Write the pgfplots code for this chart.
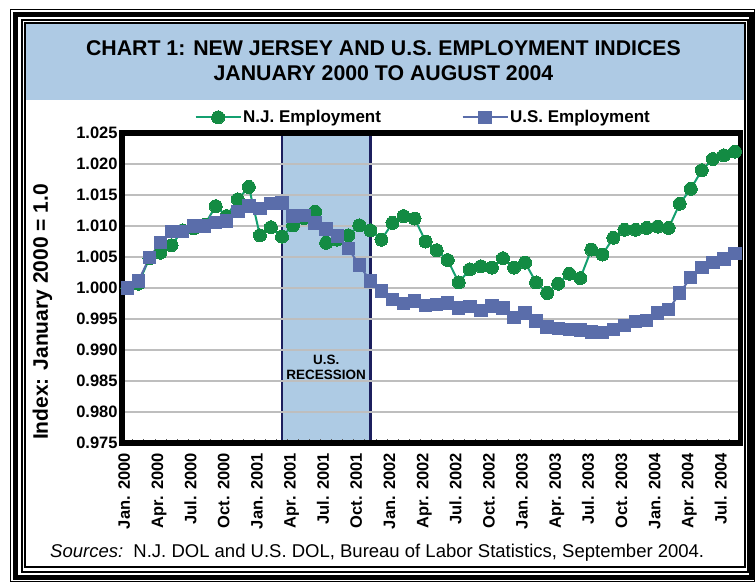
\documentclass[border=0pt]{standalone}
\usepackage{fontspec}
\setmainfont{Liberation Sans}
\usepackage{pgfplots}
\pgfplotsset{compat=1.18}
\definecolor{titleblue}{RGB}{174,202,228}
\definecolor{bandblue}{RGB}{174,203,228}
\definecolor{navy}{RGB}{28,31,94}
\definecolor{njgreen}{RGB}{19,139,67}
\definecolor{njline}{RGB}{20,160,112}
\definecolor{usblue}{RGB}{90,109,170}
\definecolor{gridgray}{RGB}{190,190,190}
\pgfplotsset{
  layers/mylayers/.define layer set={axis background,axis grid,main,axis ticks,axis lines,axis tick labels,axis descriptions,axis foreground}{},
}
\newcommand{\tickfont}{\fontsize{16.5}{19}\selectfont\bfseries}
\newcommand{\legfont}{\fontsize{17}{20}\selectfont\bfseries}
\begin{document}
\begin{tikzpicture}
\path (0pt,0pt) rectangle (755pt,-582pt);
% title box
\fill[titleblue] (26pt,-24pt) rectangle (743.5pt,-100pt);
% frames
\draw[line width=1pt] (10.5pt,-9pt) rectangle (754.5pt,-581.5pt);
\draw[line width=5pt] (15.8pt,-14.2pt) rectangle (751.5pt,-577.5pt);
\draw[line width=2pt] (21.7pt,-19.5pt) rectangle (747.5pt,-571.5pt);
\draw[line width=2pt] (25pt,-23pt) rectangle (744.5pt,-567pt);
\node[font=\fontsize{21.3}{25}\selectfont\bfseries] at (383.5pt,-48pt) {CHART 1: NEW JERSEY AND U.S. EMPLOYMENT INDICES};
\node[font=\fontsize{21.3}{25}\selectfont\bfseries] at (383.5pt,-73pt) {JANUARY 2000 TO AUGUST 2004};
\node[rotate=90, font=\fontsize{21}{25}\selectfont\bfseries] at (42.5pt,-312pt) {Index: January 2000 = 1.0};
\node[anchor=base west, inner sep=0pt, font=\fontsize{18.5}{21}\selectfont] at (50pt,-557pt) {\textit{Sources:}\ \ N.J. DOL and U.S. DOL, Bureau of Labor Statistics, September 2004.};
\begin{axis}[
  set layers=mylayers,
  scale only axis, width=618.7pt, height=310pt,
  at={(121.8pt,-443pt)}, anchor=south west,
  xmin=-0.5, xmax=55.5, ymin=0.975, ymax=1.025,
  axis line style={line width=5.5pt, black},
  ytick={0.975,0.980,0.985,0.990,0.995,1.000,1.005,1.010,1.015,1.020,1.025},
  yticklabels={0.975,0.980,0.985,0.990,0.995,1.000,1.005,1.010,1.015,1.020,1.025},
  ymajorgrids, grid style={line width=1.3pt, gridgray},
  major tick length=0pt,
  xtick={0,3,...,54},
  xticklabels={Jan. 2000,Apr. 2000,Jul. 2000,Oct. 2000,Jan. 2001,Apr. 2001,Jul. 2001,Oct. 2001,Jan. 2002,Apr. 2002,Jul. 2002,Oct. 2002,Jan. 2003,Apr. 2003,Jul. 2003,Oct. 2003,Jan. 2004,Apr. 2004,Jul. 2004},
  minor xtick={0.5,1.5,...,54.5},
  minor tick length=4pt,
  xtick pos=bottom, ytick pos=left,
  tick align=inside,
  minor tick style={line width=0.8pt, black!65},
  /pgf/number format/assume math mode=true,
  xticklabel style={rotate=90, anchor=mid east, inner sep=0pt, font=\tickfont},
  xticklabel shift=10pt,
  yticklabel style={anchor=east, inner sep=0pt, font=\tickfont},
  yticklabel shift=4pt,
  legend style={at={(0.4868,1.0506)}, anchor=center, draw=none, fill=none,
    font=\legfont, /tikz/every even column/.append style={column sep=79pt},
    nodes={inner sep=1.5pt}, cells={anchor=west}},
  legend columns=2,
  legend image code/.code={\draw[mark repeat=2, mark phase=2, #1] plot coordinates {(0pt,0pt) (22.5pt,0pt) (45pt,0pt)};},
]
\addplot[on layer=axis background, fill=bandblue, draw=navy, line width=2.8pt, forget plot]
  coordinates {(14,0.975) (14,1.025) (22,1.025) (22,0.975) (14,0.975)};
\node[font=\fontsize{13.5}{15}\selectfont\bfseries, align=center] at (axis cs:18,0.98726) {U.S.\\RECESSION};
\addplot[njline, line width=2pt, mark=*, mark size=6.5pt, mark options={fill=njgreen, draw=njgreen, line width=0pt}]
 coordinates {
(0,1.0000) (1,1.0007) (2,1.0048) (3,1.0057) (4,1.0069) (5,1.0093) (6,1.0096) (7,1.0102)
(8,1.0132) (9,1.0116) (10,1.0143) (11,1.0163) (12,1.0085) (13,1.0098) (14,1.0083) (15,1.0101)
(16,1.0113) (17,1.0123) (18,1.0073) (19,1.0078) (20,1.0085) (21,1.0101) (22,1.0093) (23,1.0078)
(24,1.0105) (25,1.0116) (26,1.0112) (27,1.0075) (28,1.0061) (29,1.0045) (30,1.0009) (31,1.0030)
(32,1.0035) (33,1.0033) (34,1.0048) (35,1.0033) (36,1.0041) (37,1.0009) (38,0.9992) (39,1.0007)
(40,1.0023) (41,1.0016) (42,1.0062) (43,1.0054) (44,1.0081) (45,1.0094) (46,1.0094) (47,1.0097)
(48,1.0099) (49,1.0097) (50,1.0136) (51,1.0160) (52,1.0190) (53,1.0208) (54,1.0214) (55,1.0220)
};
\addlegendentry{N.J. Employment}
\addplot[usblue, line width=2pt, mark=square*, mark size=6.2pt, mark options={fill=usblue, draw=usblue, line width=0pt}]
 coordinates {
(0,1.0000) (1,1.0011) (2,1.0049) (3,1.0073) (4,1.0091) (5,1.0091) (6,1.0100) (7,1.0100)
(8,1.0106) (9,1.0108) (10,1.0123) (11,1.0132) (12,1.0128) (13,1.0136) (14,1.0137) (15,1.0116)
(16,1.0117) (17,1.0105) (18,1.0095) (19,1.0084) (20,1.0064) (21,1.0037) (22,1.0011) (23,0.9995)
(24,0.9981) (25,0.9975) (26,0.9979) (27,0.9972) (28,0.9973) (29,0.9976) (30,0.9968) (31,0.9970)
(32,0.9964) (33,0.9971) (34,0.9968) (35,0.9952) (36,0.9960) (37,0.9947) (38,0.9937) (39,0.9935)
(40,0.9933) (41,0.9932) (42,0.9929) (43,0.9928) (44,0.9933) (45,0.9940) (46,0.9946) (47,0.9948)
(48,0.9960) (49,0.9965) (50,0.9992) (51,1.0017) (52,1.0033) (53,1.0041) (54,1.0047) (55,1.0056)
};
\addlegendentry{U.S. Employment}
\end{axis}
\end{tikzpicture}
\end{document}
